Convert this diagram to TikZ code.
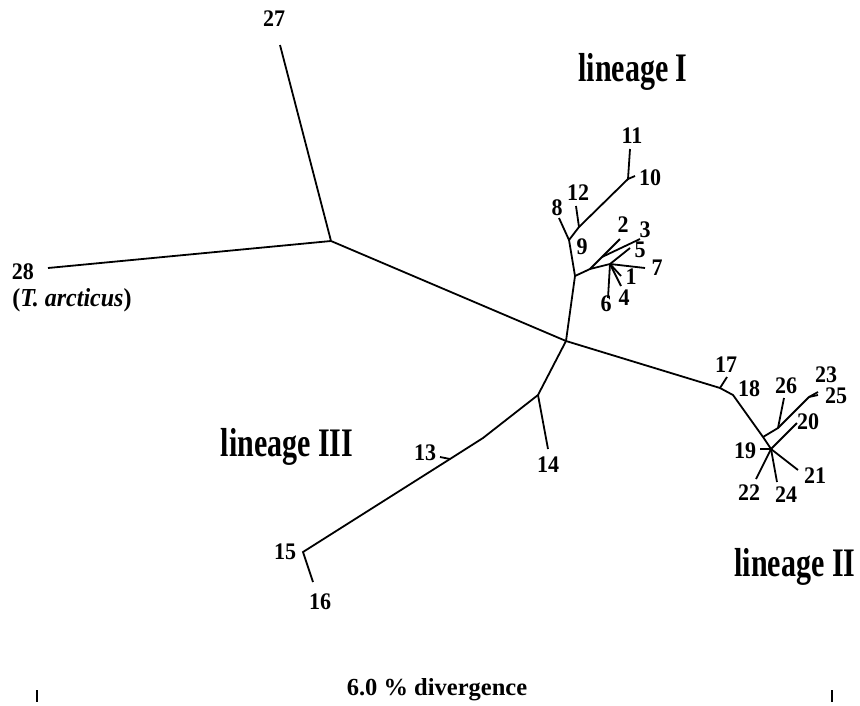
\documentclass[tikz,border=0pt]{standalone}
\usepackage{fontspec}
\usepackage{graphicx}
\setmainfont{Liberation Serif}
\newcommand{\tallA}[1]{\scalebox{1}[1.08]{#1}}
\newcommand{\tallB}[1]{\scalebox{1}[1.35]{#1}}
\begin{document}
\begin{tikzpicture}[x=1pt,y=-1pt,line width=1.8pt,
  lab/.style={font=\fontsize{22}{24}\selectfont\bfseries,inner sep=0pt},
  big/.style={font=\fontsize{30}{32}\selectfont\bfseries,inner sep=0pt}]
\useasboundingbox (0,0) rectangle (860,705);
% main skeleton
\coordinate (c) at (566,341);
\coordinate (j27) at (331,241);
\coordinate (t27) at (280,45);
\coordinate (t28) at (48,268);
% lineage I
\coordinate (a) at (575,276);
\coordinate (j9) at (569,240);
\coordinate (t8) at (559,218);
\coordinate (j12) at (579,227);
\coordinate (t12) at (576,206);
\coordinate (j10) at (628,179);
\coordinate (t11) at (630,149);
\coordinate (t10) at (635,176);
\coordinate (b) at (590,269);
\coordinate (t2) at (620,239);
\coordinate (k3) at (602,257);
\coordinate (t3) at (640,239);
\coordinate (d) at (610,264);
\coordinate (t5) at (630,248);
\coordinate (t7) at (645,268);
\coordinate (t1) at (621,276);
\coordinate (t4) at (621,286);
\coordinate (t6) at (608,298);
% lineage II
\coordinate (j17) at (720,388);
\coordinate (t17) at (727,377);
\coordinate (j18) at (733,395);
\coordinate (j23) at (763,437);
\coordinate (j26) at (778,428);
\coordinate (t26) at (784,398);
\coordinate (j25) at (809,397);
\coordinate (t25) at (818,395);
\coordinate (t23) at (818,392);
\coordinate (j19) at (771,449);
\coordinate (t19) at (760,449);
\coordinate (t20) at (797,423);
\coordinate (t21) at (798,470);
\coordinate (t22) at (756,479);
\coordinate (t24) at (777,482);
% lineage III
\coordinate (j14) at (538,395);
\coordinate (t14) at (548,449);
\coordinate (k1) at (483,438);
\coordinate (j13) at (450,459);
\coordinate (t13) at (440,457);
\coordinate (j15) at (303,552);
\coordinate (t16) at (313,582);
% scale bar
\coordinate (s1) at (37,690);
\coordinate (s1b) at (37,702);
\coordinate (s2) at (832,690);
\coordinate (s2b) at (832,702);

\draw (t27) -- (j27) -- (c);
\draw (t28) -- (j27);
\draw (c) -- (a) -- (j9) -- (t8);
\draw (j9) -- (j12) -- (j10) -- (t11);
\draw (j12) -- (t12);
\draw (j10) -- (t10);
\draw (a) -- (b) -- (t2);
\draw (k3) -- (t3);
\draw (b) -- (d) -- (t5);
\draw (d) -- (t7);
\draw (d) -- (t1);
\draw (d) -- (t4);
\draw (d) -- (t6);
\draw (c) -- (j17) -- (t17);
\draw (j17) -- (j18) -- (j23) -- (j19) -- (t21);
\draw (j23) -- (j26) -- (j25) -- (t23);
\draw (j26) -- (t26);
\draw (j25) -- (t25);
\draw (j19) -- (t19);
\draw (j19) -- (t20);
\draw (j19) -- (t22);
\draw (j19) -- (t24);
\draw (c) -- (j14) -- (t14);
\draw (j14) -- (k1) -- (j13) -- (j15) -- (t16);
\draw (j13) -- (t13);
\draw[line width=1.4pt] (s1) -- (s1b);
\draw[line width=1.4pt] (s2) -- (s2b);

\node[lab] (n27) at (274,19) {\tallA{27}};
\node[lab] (n28) at (23,272) {\tallA{28}};
\node[lab,font=\fontsize{24}{26}\selectfont\bfseries] (nta) at (72,300) {\tallA{(\textit{T. arcticus})}};
\node[big] (l1) at (633,72) {\tallB{lineage I}};
\node[big] (l2) at (795,567) {\tallB{lineage II}};
\node[big] (l3) at (287,447) {\tallB{lineage III}};
\node[lab] (n11) at (632,136) {\tallA{11}};
\node[lab] (n10) at (650,178) {\tallA{10}};
\node[lab] (n12) at (578,193) {\tallA{12}};
\node[lab] (n8) at (557,208) {\tallA{8}};
\node[lab] (n9) at (582,247) {\tallA{9}};
\node[lab] (n2) at (623,225) {\tallA{2}};
\node[lab] (n3) at (645,230) {\tallA{3}};
\node[lab] (n5) at (640,250) {\tallA{5}};
\node[lab] (n7) at (657,268) {\tallA{7}};
\node[lab] (n1) at (631,277) {\tallA{1}};
\node[lab] (n4) at (624,298) {\tallA{4}};
\node[lab] (n6) at (606,304) {\tallA{6}};
\node[lab] (n17) at (726,365) {\tallA{17}};
\node[lab] (n18) at (749,389) {\tallA{18}};
\node[lab] (n26) at (786,386) {\tallA{26}};
\node[lab] (n23) at (826,375) {\tallA{23}};
\node[lab] (n25) at (836,396) {\tallA{25}};
\node[lab] (n20) at (808,422) {\tallA{20}};
\node[lab] (n19) at (745,451) {\tallA{19}};
\node[lab] (n21) at (815,476) {\tallA{21}};
\node[lab] (n22) at (749,493) {\tallA{22}};
\node[lab] (n24) at (786,495) {\tallA{24}};
\node[lab] (n13) at (425,453) {\tallA{13}};
\node[lab] (n14) at (548,465) {\tallA{14}};
\node[lab] (n15) at (285,552) {\tallA{15}};
\node[lab] (n16) at (320,602) {\tallA{16}};
\node[lab,font=\fontsize{24.5}{26}\selectfont\bfseries] (sc) at (437,690) {6.0 \% divergence};
\end{tikzpicture}
\end{document}
